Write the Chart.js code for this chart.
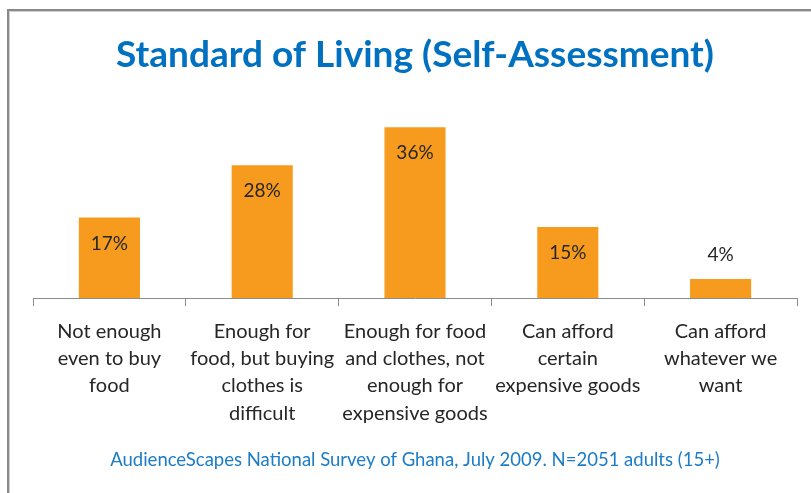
<!DOCTYPE html>
<html>
<head>
<meta charset="utf-8">
<script src="https://cdn.jsdelivr.net/npm/chart.js@4.4.1/dist/chart.umd.min.js"></script>
<style>
  html, body { margin: 0; padding: 0; background: #fff; }
  .wrap { position: relative; width: 811px; height: 493px; overflow: hidden; }
  .frame {
    position: absolute; left: 7px; top: 9px; width: 820px; height: 500px;
    border-top: 2px solid #8a8a8a; border-left: 2px solid #8a8a8a;
    box-shadow: inset 1px 1px 0 #d0d0d0;
    pointer-events: none;
  }
  canvas { position: absolute; left: 0; top: 0; }
</style>
</head>
<body>
<div class="wrap">
  <canvas id="chart-living" width="811" height="493"></canvas>
  <div class="frame"></div>
</div>
<script>
// survey answers
var categories = [
    ['Not enough', 'even to buy', 'food'],
    ['Enough for', 'food, but buying', 'clothes is', 'difficult'],
    ['Enough for food', 'and clothes, not', 'enough for', 'expensive goods'],
    ['Can afford', 'certain', 'expensive goods'],
    ['Can afford', 'whatever we', 'want']
];
var shares = [17, 28, 36, 15, 4];

var chartTitle = 'Standard of Living (Self-Assessment)';
var sourceNote = 'AudienceScapes National Survey of Ghana, July 2009. N=2051 adults (15+)';

// percent labels: inside the bar top, or above it when the bar is too short
var barLabels = {
    id: 'barLabels',
    afterDatasetsDraw: function (chart) {
        var ctx = chart.ctx;
        var meta = chart.getDatasetMeta(0);
        ctx.save();
        ctx.font = '19px Lato';
        ctx.fillStyle = '#262626';
        ctx.textAlign = 'center';
        ctx.textBaseline = 'middle';
        meta.data.forEach(function (bar, i) {
            var h = bar.base - bar.y;
            var y = h > 40 ? bar.y + 26 : bar.y - 24;
            ctx.fillText(shares[i] + '%', bar.x, y);
        });
        ctx.restore();
    }
};

const ctx = document.getElementById('chart-living').getContext('2d');
const chart = new Chart(ctx, {
    type: 'bar',
    data: {
        labels: categories,
        datasets: [{
            data: shares,
            backgroundColor: '#F79B1E',
            borderWidth: 0,
            barPercentage: 0.8,
            categoryPercentage: 0.5
        }]
    },
    options: {
        responsive: false,
        animation: false,
        layout: {
            padding: { left: 33, right: 14, top: 0, bottom: 0 }
        },
        plugins: {
            legend: { display: false },
            tooltip: { enabled: false },
            title: {
                display: true,
                text: chartTitle,
                color: '#0070C0',
                font: { family: 'Lato', size: 37, weight: 'bold', lineHeight: 1.2 },
                padding: { top: 33, bottom: 31 }
            },
            subtitle: {
                display: true,
                position: 'bottom',
                text: sourceNote,
                color: '#1C7CC6',
                font: { family: 'Lato', size: 18.5, lineHeight: 1.2 },
                padding: { top: 10, bottom: 22 }
            }
        },
        scales: {
            x: {
                grid: {
                    offset: true,
                    drawOnChartArea: false,
                    drawTicks: true,
                    tickLength: 8,
                    color: '#8c8c8c'
                },
                border: { display: true, color: '#8c8c8c', width: 1 },
                ticks: {
                    color: '#262626',
                    padding: 12,
                    maxRotation: 0,
                    autoSkip: false,
                    font: { family: 'Lato', size: 20, lineHeight: 1.36 }
                }
            },
            y: {
                display: false,
                min: 0,
                max: 40
            }
        }
    },
    plugins: [barLabels]
});
</script>
</body>
</html>
